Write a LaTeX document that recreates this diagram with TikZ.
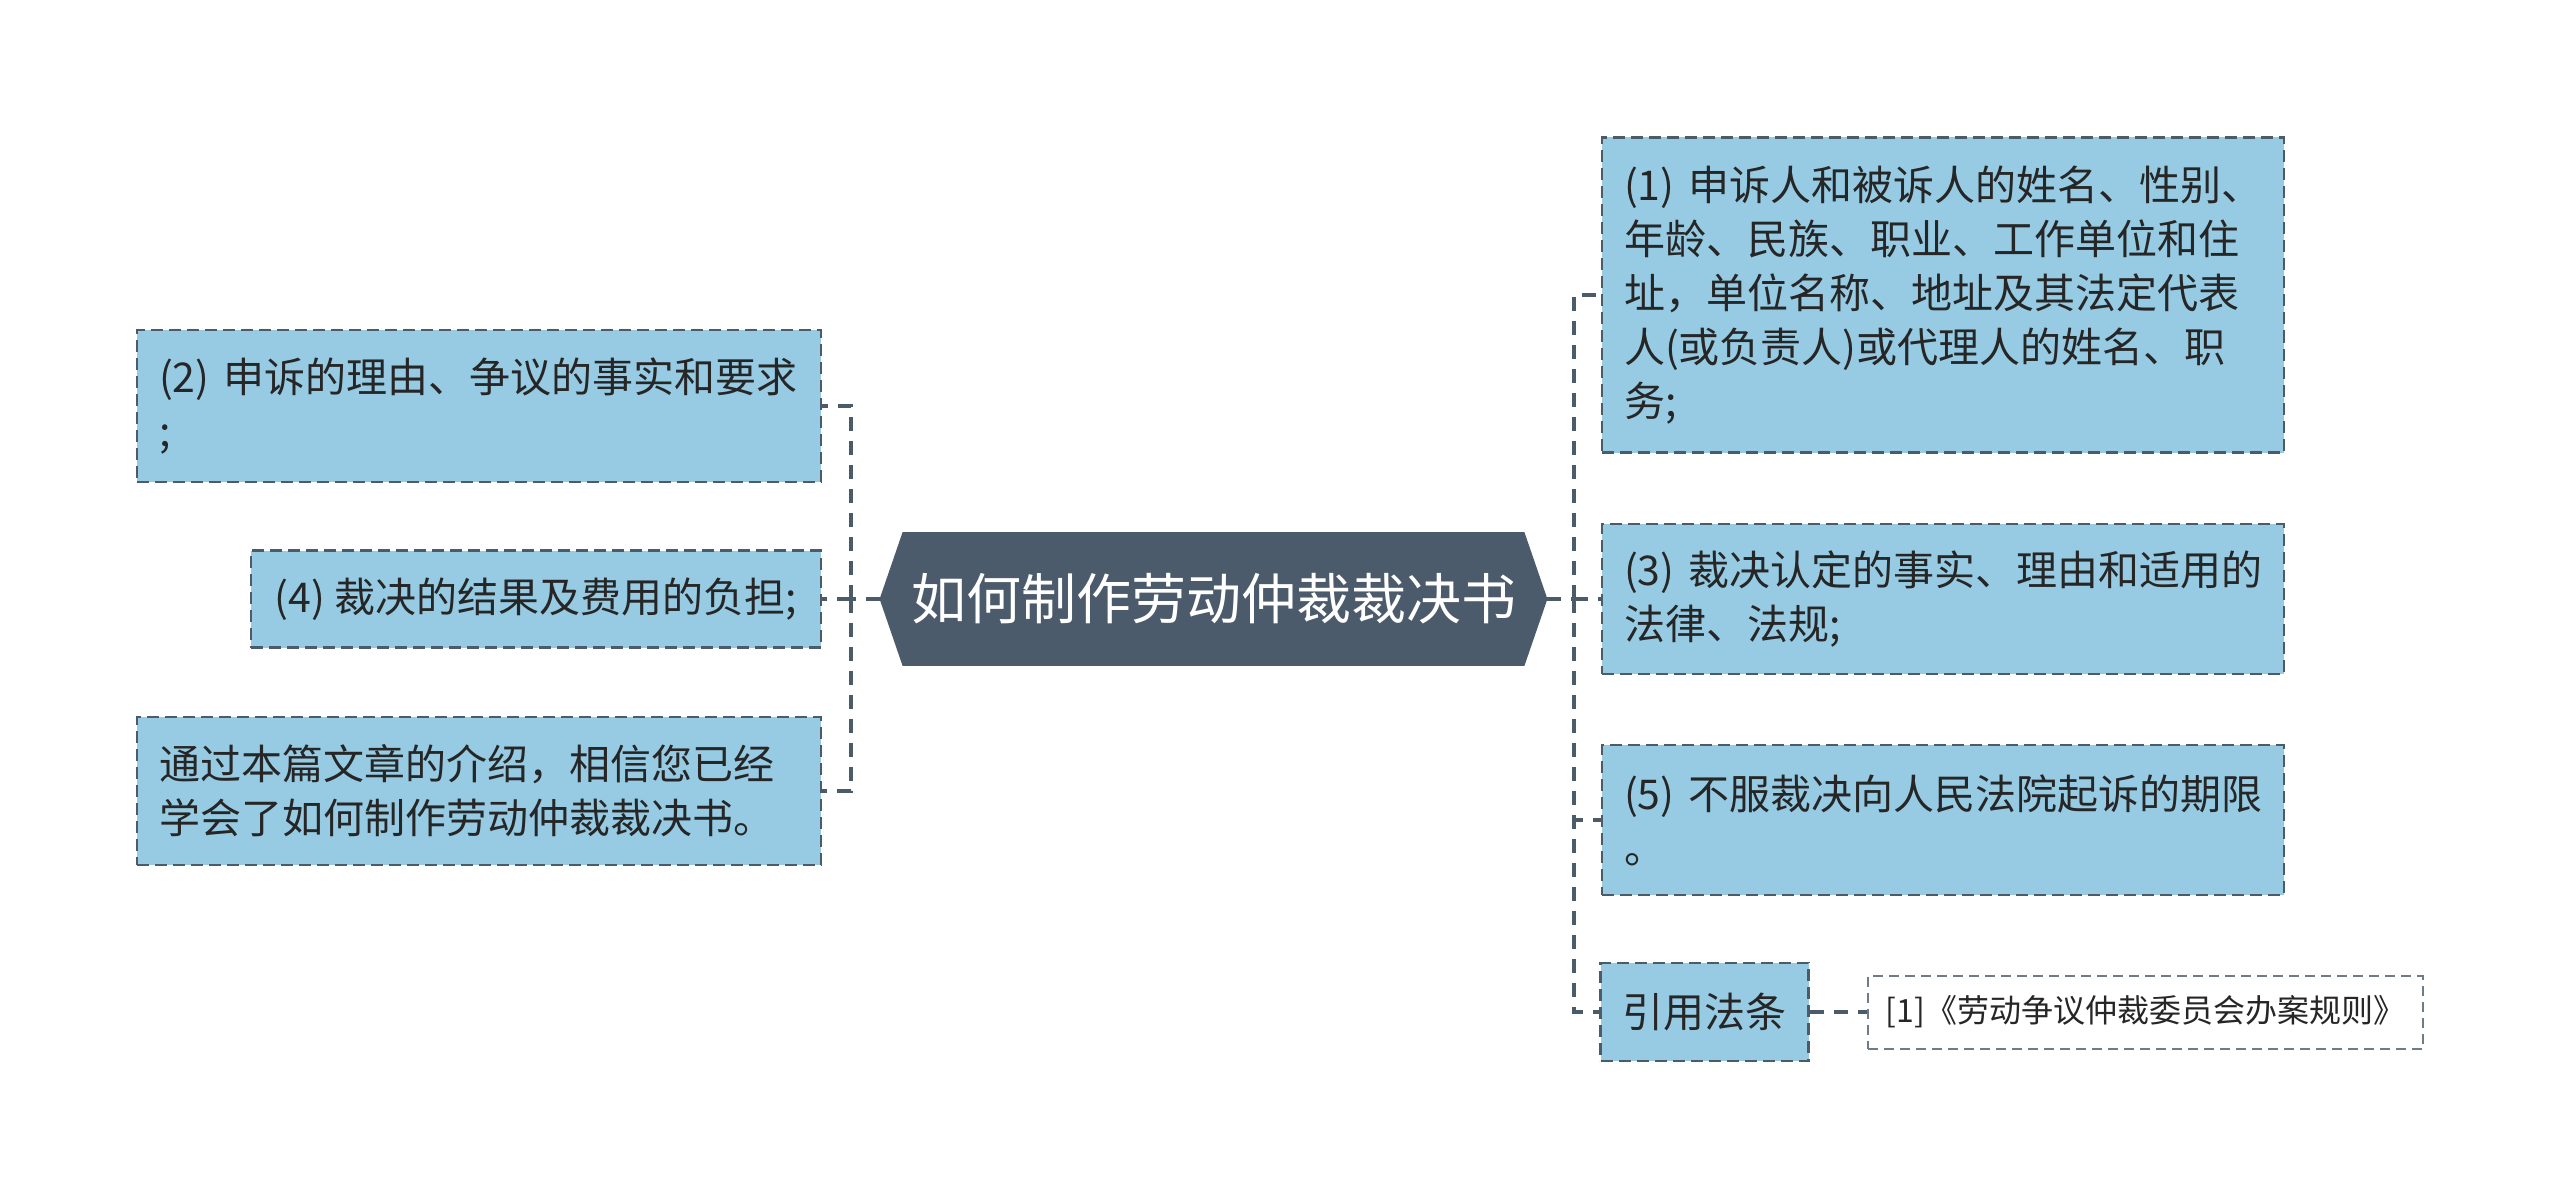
\documentclass[tikz,border=0pt]{standalone}
\usepackage{fontspec}
\setmainfont{Noto Sans CJK SC}
\definecolor{boxblue}{HTML}{96CBE3}
\definecolor{linec}{HTML}{4B5B6A}
\definecolor{hubc}{HTML}{4B5B6B}
\definecolor{txtc}{HTML}{262626}
\begin{document}
\begin{tikzpicture}[x=0.5pt,y=-0.5pt,
  leaf/.style={draw=linec, line width=1.25pt, dash pattern=on 6pt off 3pt, fill=boxblue,
    inner xsep=11pt, inner ysep=0pt, text=txtc, anchor=center,
    font=\fontsize{20.5pt}{27pt}\selectfont},
  wide/.style={align=left, text width=#1},
  refbox/.style={draw=linec!80, line width=1pt, dash pattern=on 5pt off 3pt, fill=white,
    inner xsep=8pt, inner ysep=0pt, text=txtc, font=\fontsize{16pt}{20pt}\selectfont},
  conn/.style={draw=linec, line width=2pt, dash pattern=on 7pt off 5pt},
  hub/.style={draw=none, minimum width=333.5pt, minimum height=66.5pt, inner sep=0pt,
    text=white, font=\fontsize{27.5pt}{33pt}\selectfont}
]
\useasboundingbox (0,0) rectangle (2560,1198);

% central node
\node[hub] (c) at (1213.5,599) {};
\fill[hubc] (c.west) -- ([xshift=11.5pt]c.north west) -- ([xshift=-11.5pt]c.north east)
  -- (c.east) -- ([xshift=-11.5pt]c.south east) -- ([xshift=11.5pt]c.south west) -- cycle;
\node[hub] at (c.center) {如何制作劳动仲裁裁决书};

% left children
\node[leaf, wide=320pt, minimum width=342pt, minimum height=76pt] (b2) at (479,406)
  {(2)~申诉的理由、争议的事实和要求\\;};
\node[leaf, minimum width=285pt, minimum height=48.5pt] (b4) at (536,599)
  {(4)~裁决的结果及费用的负担;};
\node[leaf, wide=320pt, minimum width=342pt, minimum height=74pt] (be) at (479,791)
  {通过本篇文章的介绍，相信您已经\\学会了如何制作劳动仲裁裁决书。};

% right children
\node[leaf, wide=319pt, minimum width=341pt, minimum height=157.5pt] (b1) at (1943,295)
  {(1)~申诉人和被诉人的姓名、性别、\\年龄、民族、职业、工作单位和住\\址，单位名称、地址及其法定代表\\人(或负责人)或代理人的姓名、职\\务;};
\node[leaf, wide=319pt, minimum width=341pt, minimum height=75pt] (b3) at (1943,599)
  {(3)~裁决认定的事实、理由和适用的\\法律、法规;};
\node[leaf, wide=319pt, minimum width=341pt, minimum height=75pt] (b5) at (1943,820)
  {(5)~不服裁决向人民法院起诉的期限\\。};
\node[leaf, minimum width=102.5pt, minimum height=49pt] (law) at (1704.5,1012)
  {引用法条};
\node[refbox, minimum width=277.5pt, minimum height=36.5pt] (ref) at (2145.5,1012)
  {[1]《劳动争议仲裁委员会办案规则》};

% connectors
\coordinate (lj) at (851,599);
\coordinate (rj) at (1574,599);
\draw[conn] (c.west) -- (lj);
\draw[conn] (lj) |- (b2.east);
\draw[conn] (lj) -- (b4.east);
\draw[conn] (lj) |- (be.east);
\draw[conn] (c.east) -- (rj);
\draw[conn] (rj) |- (b1.west);
\draw[conn] (rj) -- (b3.west);
\draw[conn] (rj) |- (b5.west);
\draw[conn] (rj) |- (law.west);
\draw[conn] (law.east) -- (ref.west);
\end{tikzpicture}
\end{document}
